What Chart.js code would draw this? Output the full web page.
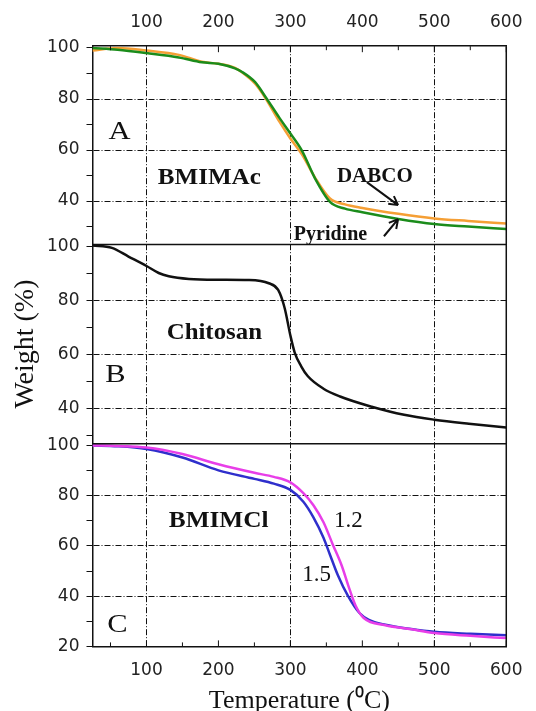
<!DOCTYPE html>
<html>
<head>
<meta charset="utf-8">
<script src="https://cdn.jsdelivr.net/npm/chart.js@4.4.0/dist/chart.umd.min.js"></script>
<style>
  html, body { margin: 0; padding: 0; background: #fff; }
</style>
</head>
<body>
<canvas id="tgaChart" width="536" height="711"></canvas>
<script>
// Panel A: BMIMAc, DABCO vs pyridine
const tempA = [25, 60, 100, 145, 177, 200, 223, 233, 251, 265, 285, 300, 316, 334, 355, 376, 400, 450, 500, 547, 600];
const dabco = [99.0, 100.0, 99.0, 97.3, 94.6, 93.8, 92.2, 90.4, 86.0, 80.5, 71.0, 64.5, 58.3, 49.3, 41.0, 38.7, 37.3, 35.0, 33.2, 32.2, 31.2];
const pyridine = [100.0, 99.3, 98.0, 96.3, 94.4, 93.8, 92.0, 90.6, 86.6, 81.0, 72.5, 66.5, 59.8, 49.0, 39.7, 37.0, 35.6, 33.0, 31.0, 30.0, 29.0];

// Panel B: chitosan
const tempB = [25, 52, 75, 100, 117, 131, 159, 200, 242, 270, 283, 292, 300, 306, 315, 324, 346, 369, 413, 458, 500, 548, 600];
const chitosan = [100.3, 99.4, 96.2, 92.7, 90.1, 88.9, 87.9, 87.6, 87.5, 86.3, 83.8, 77.1, 66.9, 60.6, 55.5, 51.9, 47.2, 44.3, 40.5, 37.5, 35.7, 34.2, 32.8];

// Panel C: BMIMCl, ratio 1.5 and 1.2
const temp15 = [25, 60, 100, 150, 200, 250, 277, 300, 318, 332, 346, 355, 366, 380, 396, 409, 432, 468, 500, 550, 600];
const ratio15 = [100, 99.7, 98.6, 95.2, 90.1, 86.7, 84.8, 82.3, 77.6, 71.4, 63.3, 56.5, 48.3, 40.1, 33.3, 30.6, 28.6, 26.9, 25.8, 25.0, 24.4];
const temp12 = [25, 60, 100, 150, 200, 250, 277, 300, 318, 332, 346, 359, 371, 382, 391, 402, 432, 468, 500, 550, 600];
const ratio12 = [100, 99.8, 99.2, 96.6, 92.5, 89.1, 87.5, 85.3, 81.0, 76.2, 69.4, 60.5, 52.4, 42.9, 36.0, 31.3, 28.4, 26.8, 25.3, 24.2, 23.3];

// tick values (every one gets a mark, labels below)
const xTicks = [100, 200, 300, 400, 500, 600];
const yTicksA = [30, 40, 50, 60, 70, 80, 90, 100];
const yTicksB = [30, 40, 50, 60, 70, 80, 90, 100];
const yTicksC = [20, 30, 40, 50, 60, 70, 80, 90, 100];
const yLabelsA = [40, 60, 80, 100];
const yLabelsB = [40, 60, 80, 100];
const yLabelsC = [20, 40, 60, 80, 100];
const xGrid = [100, 300, 500];
const yGrid = [40, 60, 80];

const pts = (xs, ys) => xs.map((x, i) => ({ x: x, y: ys[i] }));

const INK = "#111";
const DASH = [6, 2, 1, 2];
const tickFont = { family: "DejaVu Sans", size: 17 };

const line = (label, xs, ys, color, axis) => ({
  label: label,
  data: pts(xs, ys),
  borderColor: color,
  borderWidth: 2.5,
  pointRadius: 0,
  cubicInterpolationMode: "monotone",
  yAxisID: axis,
});

const yAxis = (min, weight, tickVals, labelVals, extra) => Object.assign({
  type: "linear",
  position: "left",
  stack: "panels",
  stackWeight: weight,
  min: min,
  max: 100.7,
  afterFit: (s) => { s.width = 92.5; },
  afterBuildTicks: (s) => { s.ticks = tickVals.map((v) => ({ value: v })); },
  ticks: {
    autoSkip: false,
    padding: 7,
    color: "#222",
    font: tickFont,
    callback: (v) => (labelVals.includes(v) ? v : ""),
  },
  grid: {
    color: (c) => (yGrid.includes(c.tick.value) ? INK : "rgba(0,0,0,0)"),
    tickColor: INK,
    tickLength: 6,
    lineWidth: 1,
  },
  border: { display: true, color: INK, width: 1.5, dash: DASH },
}, extra || {});

// frame, inward x ticks, labels and arrows
const decor = {
  id: "decor",
  afterDraw(chart) {
    const { ctx, chartArea: a, scales } = chart;
    const x = scales.x;
    ctx.save();
    ctx.strokeStyle = INK;
    ctx.lineWidth = 1.5;
    ctx.beginPath();
    ctx.moveTo(a.right, a.top);
    ctx.lineTo(a.right, a.bottom);
    [scales.yB.top, scales.yC.top].forEach((yy) => {
      ctx.moveTo(a.left, yy);
      ctx.lineTo(a.right, yy);
    });
    ctx.stroke();

    ctx.lineWidth = 1;
    ctx.beginPath();
    for (let t = 50; t <= 600; t += 50) {
      const px = x.getPixelForValue(t);
      const len = t % 100 === 0 ? 6 : 4;
      ctx.moveTo(px, a.top);
      ctx.lineTo(px, a.top + len);
      ctx.moveTo(px, a.bottom);
      ctx.lineTo(px, a.bottom - len);
    }
    ctx.stroke();

    const text = (s, tx, ty, axis, font, sx) => {
      ctx.save();
      ctx.translate(x.getPixelForValue(tx), scales[axis].getPixelForValue(ty));
      ctx.scale(sx, 1);
      ctx.font = font;
      ctx.fillStyle = INK;
      ctx.textAlign = "center";
      ctx.textBaseline = "middle";
      ctx.fillText(s, 0, 0);
      ctx.restore();
    };
    const big = "25px 'Liberation Serif'";
    const bold = "bold 23px 'Liberation Serif'";
    text("A", 62.6, 66.9, "yA", big, 1.22);
    text("BMIMAc", 187.3, 49.1, "yA", bold, 1.09);
    text("DABCO", 417.4, 49.5, "yA", "bold 20px 'Liberation Serif'", 1.05);
    text("Pyridine", 355.7, 26.6, "yA", "bold 20px 'Liberation Serif'", 1.0);
    text("B", 57, 52.1, "yB", big, 1.22);
    text("Chitosan", 194.3, 68, "yB", bold, 1.08);
    text("C", 59.5, 28.5, "yC", big, 1.22);
    text("BMIMCl", 200.3, 70, "yC", bold, 1.1);
    text("1.2", 380.5, 70, "yC", "23px 'Liberation Serif'", 1.0);
    text("1.5", 336.5, 48.3, "yC", "23px 'Liberation Serif'", 1.0);

    const arrow = (x1, y1, x2, y2, axis) => {
      const ys = scales[axis];
      const p1 = [x.getPixelForValue(x1), ys.getPixelForValue(y1)];
      const p2 = [x.getPixelForValue(x2), ys.getPixelForValue(y2)];
      const ang = Math.atan2(p2[1] - p1[1], p2[0] - p1[0]);
      ctx.lineWidth = 2;
      ctx.beginPath();
      ctx.moveTo(p1[0], p1[1]);
      ctx.lineTo(p2[0], p2[1]);
      [0.5, -0.5].forEach((d) => {
        ctx.moveTo(p2[0], p2[1]);
        ctx.lineTo(p2[0] - 10 * Math.cos(ang + d), p2[1] - 10 * Math.sin(ang + d));
      });
      ctx.stroke();
    };
    arrow(406.2, 47.4, 449.7, 38.4, "yA");
    arrow(430, 26.2, 449.7, 32.9, "yA");
    ctx.restore();
  },
};

new Chart(document.getElementById("tgaChart"), {
  type: "line",
  data: {
    datasets: [
      line("Pyridine", tempA, pyridine, "#1b8c1b", "yA"),
      line("DABCO", tempA, dabco, "#f59f35", "yA"),
      line("Chitosan", tempB, chitosan, "#111111", "yB"),
      line("1.2", temp12, ratio12, "#e83ee8", "yC"),
      line("1.5", temp15, ratio15, "#2f2fcc", "yC"),
    ],
  },
  options: {
    responsive: false,
    animation: false,
    layout: { padding: { left: 0, right: 18, top: 0, bottom: 0 } },
    plugins: { legend: { display: false }, tooltip: { enabled: false } },
    scales: {
      x: {
        type: "linear",
        position: "bottom",
        min: 25,
        max: 600,
        afterFit: (s) => { s.height = 64.6; },
        ticks: {
          stepSize: 50,
          autoSkip: false,
          maxRotation: 0,
          padding: 13.5,
          color: "#222",
          font: tickFont,
          callback: (v) => (xTicks.includes(v) ? v : ""),
        },
        grid: {
          color: (c) => (xGrid.includes(c.tick.value) ? INK : "rgba(0,0,0,0)"),
          drawTicks: false,
          lineWidth: 1,
        },
        border: { display: true, color: INK, width: 1.5, dash: DASH },
        title: {
          display: true,
          text: "Temperature (\u2070C)",
          color: INK,
          font: { family: "Liberation Serif", size: 26 },
          padding: { top: 0, bottom: -6 },
        },
      },
      x2: {
        type: "linear",
        position: "top",
        min: 25,
        max: 600,
        afterFit: (s) => { s.height = 46.2; },
        ticks: {
          stepSize: 50,
          autoSkip: false,
          maxRotation: 0,
          padding: 13.5,
          color: "#222",
          font: tickFont,
          callback: (v) => (xTicks.includes(v) ? v : ""),
        },
        grid: { drawOnChartArea: false, drawTicks: false },
        border: { display: true, color: INK, width: 1.5 },
      },
      // stacked panels: last listed sits on top
      yC: yAxis(20, 202.7, yTicksC, yLabelsC),
      yB: yAxis(26.8, 199.3, yTicksB, yLabelsB, {
        title: {
          display: true,
          text: "Weight (%)",
          color: INK,
          font: { family: "Liberation Serif", size: 28 },
          padding: { top: 8.6, bottom: 0 },
        },
      }),
      yA: yAxis(23, 198.2, yTicksA, yLabelsA),
    },
  },
  plugins: [decor],
});
</script>
</body>
</html>
